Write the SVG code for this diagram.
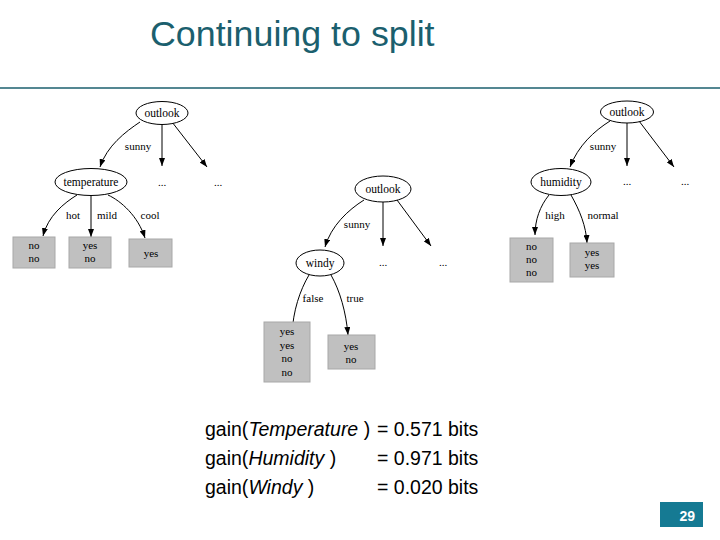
<svg xmlns="http://www.w3.org/2000/svg" width="720" height="540" viewBox="0 0 720 540">
<defs>
<marker id="ah" markerWidth="8" markerHeight="6" refX="8" refY="3" orient="auto" markerUnits="userSpaceOnUse">
<path d="M0,0 L8,3 L0,6 z" fill="#000"/>
</marker>
<style>
.t{font-family:"Liberation Serif","Times New Roman",serif;font-size:11.5px;fill:#000;text-anchor:middle}
.l{font-family:"Liberation Serif","Times New Roman",serif;font-size:11px;fill:#000;text-anchor:middle}
.n{fill:#fff;stroke:#000;stroke-width:1}
.b{fill:#c0c0c0;stroke:#a8a8a8;stroke-width:1}
.e{fill:none;stroke:#000;stroke-width:1;marker-end:url(#ah)}
.g{font-family:"Liberation Sans",Arial,sans-serif;font-size:19.5px;fill:#000}
</style>
</defs>
<rect width="720" height="540" fill="#fff"/>
<text x="150" y="46" font-family="'Liberation Sans',Arial,sans-serif" font-size="35.8" fill="#1b5f6e">Continuing to split</text>
<line x1="0" y1="88" x2="720" y2="88" stroke="#1b5f6e" stroke-width="1.5"/>

<g id="connectors">
<path class="e" d="M140,122 C125,132 107,146 100,167"/>
<path class="e" d="M162,124 L162,166"/>
<path class="e" d="M172,122 L207,167"/>
<path class="e" d="M77,195 C64,203 48,216 43,236"/>
<path class="e" d="M91,196 L91,237"/>
<path class="e" d="M108,195 C121,201 138,216 145,238"/>
<path class="e" d="M364,200 C348,210 331,226 325,247"/>
<path class="e" d="M383,202 L383,246"/>
<path class="e" d="M397,200 L431,246"/>
<path class="e" d="M309,275 C300,290 293,311 292,334"/>
<path class="e" d="M331,275 C340,291 346,312 348,335"/>
<path class="e" d="M610,121 C594,131 578,146 570,167"/>
<path class="e" d="M627,123 L627,166"/>
<path class="e" d="M639,121 L674,167"/>
<path class="e" d="M549,195 C540,206 535,220 535,235"/>
<path class="e" d="M571,195 C580,211 586,226 587,243"/>
</g>

<g id="edge-labels">
<text class="l" x="138" y="150">sunny</text>
<text class="l" x="162" y="186">...</text>
<text class="l" x="218" y="186">...</text>
<text class="l" x="73" y="219">hot</text>
<text class="l" x="107" y="219">mild</text>
<text class="l" x="150" y="219">cool</text>
<text class="l" x="357" y="228">sunny</text>
<text class="l" x="383" y="266">...</text>
<text class="l" x="443" y="266">...</text>
<text class="l" x="313" y="302">false</text>
<text class="l" x="355" y="302">true</text>
<text class="l" x="603" y="150">sunny</text>
<text class="l" x="627" y="185">...</text>
<text class="l" x="685" y="185">...</text>
<text class="l" x="555" y="219">high</text>
<text class="l" x="603" y="219">normal</text>
</g>

<g id="t1-outlook"><ellipse class="n" cx="162" cy="113" rx="26" ry="11.5"/><text class="t" x="162" y="117">outlook</text></g>
<g id="t1-temperature"><ellipse class="n" cx="91" cy="182" rx="36" ry="13.5"/><text class="t" x="91" y="186">temperature</text></g>
<g id="t1-hot"><rect class="b" x="13" y="237" width="42" height="31"/><text class="l" x="34" y="249">no</text><text class="l" x="34" y="262">no</text></g>
<g id="t1-mild"><rect class="b" x="69" y="237" width="42" height="31"/><text class="l" x="90" y="249">yes</text><text class="l" x="90" y="262">no</text></g>
<g id="t1-cool"><rect class="b" x="129" y="239" width="43" height="28"/><text class="l" x="151" y="257">yes</text></g>

<g id="t2-outlook"><ellipse class="n" cx="383" cy="189" rx="28" ry="13"/><text class="t" x="383" y="193">outlook</text></g>
<g id="t2-windy"><ellipse class="n" cx="320" cy="263" rx="24" ry="13"/><text class="t" x="320" y="267">windy</text></g>
<g id="t2-false"><rect class="b" x="264" y="322" width="46" height="60"/><text class="l" x="287" y="335">yes</text><text class="l" x="287" y="348.5">yes</text><text class="l" x="287" y="362">no</text><text class="l" x="287" y="375.5">no</text></g>
<g id="t2-true"><rect class="b" x="328" y="335" width="47" height="34"/><text class="l" x="351" y="349.5">yes</text><text class="l" x="351" y="363">no</text></g>

<g id="t3-outlook"><ellipse class="n" cx="627" cy="112" rx="26.5" ry="11"/><text class="t" x="627" y="116">outlook</text></g>
<g id="t3-humidity"><ellipse class="n" cx="561" cy="182" rx="30" ry="13.5"/><text class="t" x="561" y="186">humidity</text></g>
<g id="t3-high"><rect class="b" x="510" y="238" width="43" height="44"/><text class="l" x="531.5" y="250">no</text><text class="l" x="531.5" y="263">no</text><text class="l" x="531.5" y="276">no</text></g>
<g id="t3-normal"><rect class="b" x="570" y="243" width="44" height="34"/><text class="l" x="592" y="256">yes</text><text class="l" x="592" y="269">yes</text></g>

<g id="gains">
<text class="g" x="205" y="436">gain(<tspan font-style="italic">Temperature</tspan> )</text>
<text class="g" x="377" y="436">= 0.571 bits</text>
<text class="g" x="205" y="465">gain(<tspan font-style="italic">Humidity</tspan> )</text>
<text class="g" x="377" y="465">= 0.971 bits</text>
<text class="g" x="205" y="494">gain(<tspan font-style="italic">Windy</tspan> )</text>
<text class="g" x="377" y="494">= 0.020 bits</text>
</g>

<g id="page-number">
<rect x="660" y="502" width="43" height="25" fill="#157a93"/>
<text x="695" y="521" font-family="'Liberation Sans',Arial,sans-serif" font-size="14" font-weight="bold" fill="#fff" text-anchor="end">29</text>
</g>
</svg>
